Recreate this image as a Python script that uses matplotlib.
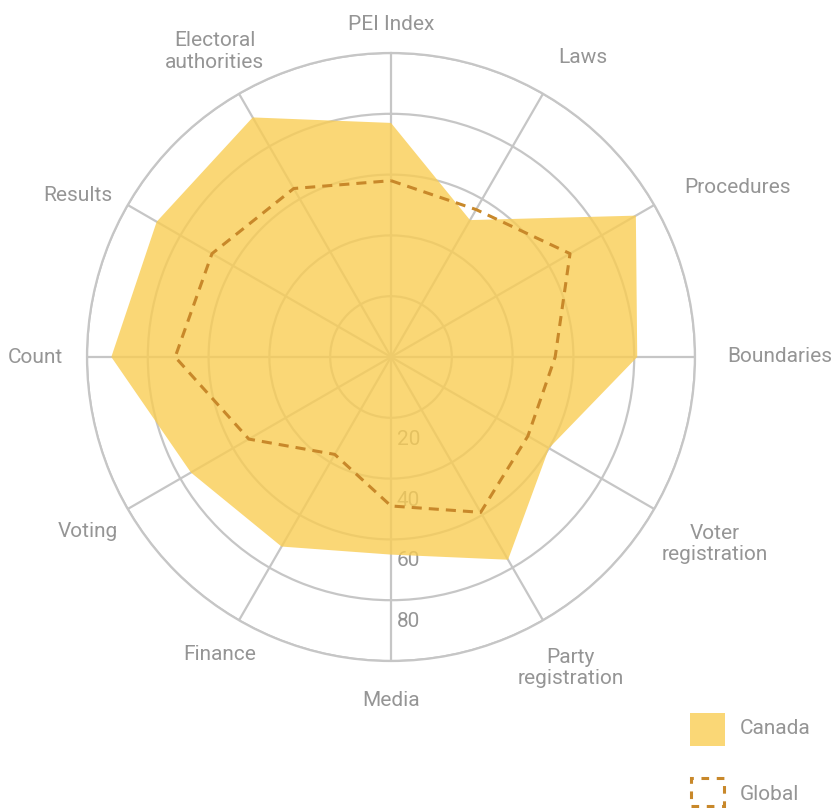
import numpy as np
import matplotlib
matplotlib.use("Agg")
import matplotlib.pyplot as plt
from matplotlib.patches import Rectangle

plt.rcParams['font.family'] = ['Roboto', 'DejaVu Sans']

categories = ['PEI Index', 'Laws', 'Procedures', 'Boundaries', 'Voter\nregistration',
              'Party\nregistration', 'Media', 'Finance', 'Voting', 'Count',
              'Results', 'Electoral\nauthorities']
canada = [77, 52, 93, 81, 60, 77, 65, 72, 76, 92, 89, 91]
global_avg = [58, 56, 68, 54, 52, 59, 49, 37, 54, 71, 68, 64]
ring_ticks = [20, 40, 60, 80]
series_names = ['Canada', 'Global']

# label placement: (radius, ha, va) per category
label_pos = [(109.5, 'center', 'center'), (110, 'left', 'bottom'), (111.5, 'left', 'center'),
             (110.5, 'left', 'center'), (123, 'center', 'center'), (118, 'center', 'center'),
             (113, 'center', 'center'), (113, 'center', 'center'), (115, 'center', 'center'),
             (108, 'right', 'center'), (106, 'right', 'center'), (116, 'center', 'center')]

fill_col = '#F9CD54'
line_col = '#C8882A'
grid_col = '#C6C6C6'
text_col = '#959595'

W, H = 831, 808
fig = plt.figure(figsize=(W / 100, H / 100), dpi=100)

# polar area: centre (391,357) px, radius 304 px
cx, cy, R = 391, 357, 304
ax = fig.add_axes([(cx - R) / W, (H - cy - R) / H, 2 * R / W, 2 * R / H], polar=True)
ax.set_theta_zero_location('N')
ax.set_theta_direction(-1)
ax.set_ylim(0, 100)

n = len(categories)
theta = np.arange(n) * 2 * np.pi / n

ax.set_xticks(theta)
ax.set_xticklabels([])
ax.set_yticks(ring_ticks + [100])
ax.set_yticklabels([])
ax.tick_params(length=0)
ax.grid(True, color=grid_col, lw=1.6)
ax.spines['polar'].set_color(grid_col)
ax.spines['polar'].set_linewidth(1.6)
ax.set_axisbelow(True)

# ring values under the fill
for v in ring_ticks:
    ax.annotate(str(v), xy=(np.pi, v), xytext=(4, -15.5), textcoords='offset points',
                ha='left', va='center', fontsize=15, color=text_col, zorder=0.5)

tc = np.append(theta, theta[0])
ax.fill(tc, canada + canada[:1], color=fill_col, alpha=0.8, lw=0, zorder=1)
ax.plot(tc, global_avg + global_avg[:1], color=line_col, lw=2.2,
        linestyle=(0, (3.3, 2.3)), zorder=2)

# category labels around the outside
for ang, lab, (r, ha, va) in zip(theta, categories, label_pos):
    ax.text(ang, r, lab, ha=ha, va=va, fontsize=15, color=text_col,
            multialignment='center', linespacing=1.15, clip_on=False)

# legend
fig.add_artist(Rectangle((690 / W, 1 - 746 / H), 35 / W, 33 / H, transform=fig.transFigure,
                         facecolor=fill_col, alpha=0.8, lw=0))
fig.add_artist(Rectangle((691 / W, 1 - 806 / H), 33 / W, 28 / H, transform=fig.transFigure,
                         facecolor='none', edgecolor=line_col, lw=2.2,
                         linestyle=(0, (2.5, 2.5))))
fig.text(740 / W, 1 - 728 / H, series_names[0], ha='left', va='center', fontsize=15, color=text_col)
fig.text(740 / W, 1 - 794 / H, series_names[1], ha='left', va='center', fontsize=15, color=text_col)

fig.savefig('out.png', dpi=100)
